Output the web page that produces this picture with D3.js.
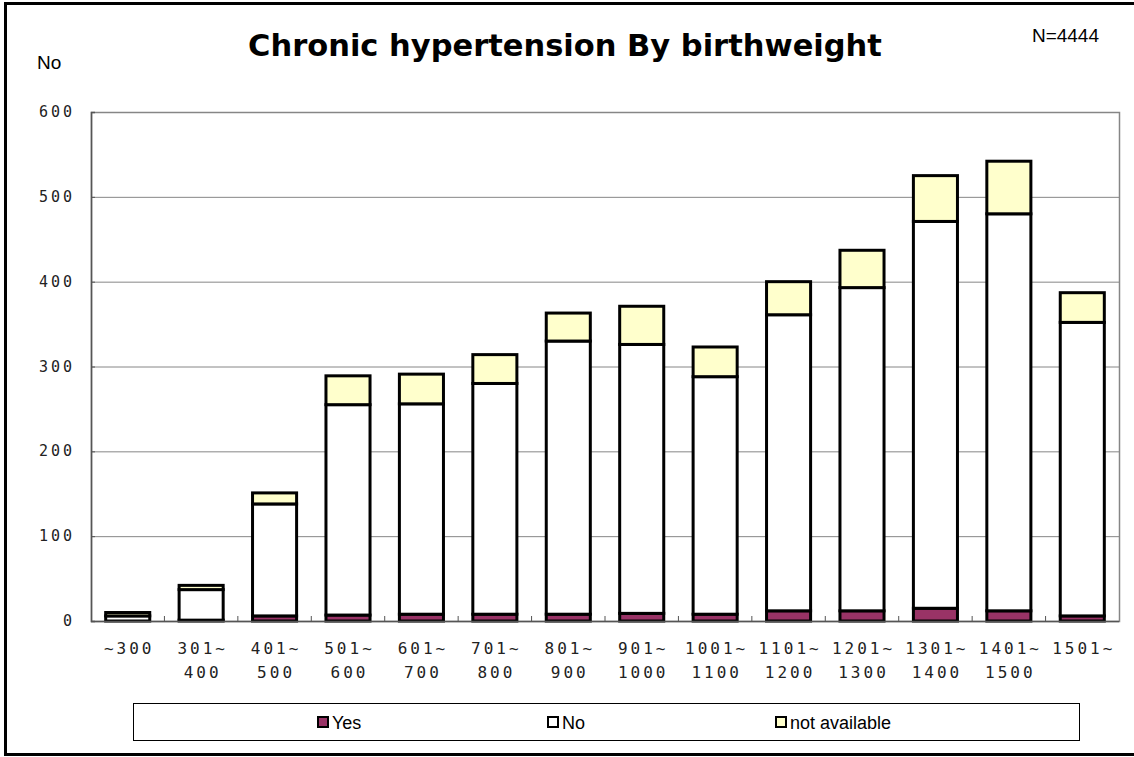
<!DOCTYPE html>
<html>
<head>
<meta charset="utf-8">
<script src="https://cdn.jsdelivr.net/npm/d3@7"></script>
<style>
  body { margin: 0; background: #fff; }
  svg { display: block; }
</style>
</head>
<body>
<div id="graph"></div>
<script>
// dados
const categories = ["~300", "301~400", "401~500", "501~600", "601~700", "701~800", "801~900",
  "901~1000", "1001~1100", "1101~1200", "1201~1300", "1301~1400", "1401~1500", "1501~"];
const labelLines = [["~300"], ["301~", "400"], ["401~", "500"], ["501~", "600"], ["601~", "700"],
  ["701~", "800"], ["801~", "900"], ["901~", "1000"], ["1001~", "1100"], ["1101~", "1200"],
  ["1201~", "1300"], ["1301~", "1400"], ["1401~", "1500"], ["1501~"]];
const yes = [0, 1, 6, 7, 8, 8, 8, 9, 8, 12, 12, 15, 12, 6];
const no = [6, 36, 132, 248, 248, 272, 322, 317, 280, 349, 381, 456, 468, 346];
const notAvailable = [4, 5, 13, 34, 35, 34, 33, 45, 35, 39, 44, 54, 62, 35];
const seriesNames = ["Yes", "No", "not available"];
const seriesColors = ["#993366", "#ffffff", "#ffffcc"];
const yTicks = [0, 100, 200, 300, 400, 500, 600];

const W = 1134, H = 757;
const plot = { left: 91, top: 112, right: 1119, bottom: 621 };

const svg = d3.select("#graph")
  .append("svg")
  .attr("width", W)
  .attr("height", H);

svg.append("rect")
  .attr("width", W).attr("height", H).attr("fill", "#fff");

// moldura externa (lado direito fica fora da imagem)
svg.append("rect")
  .attr("x", 5.5).attr("y", 3.5)
  .attr("width", W + 20).attr("height", 751)
  .attr("fill", "none").attr("stroke", "#000").attr("stroke-width", 3);

const xScale = d3.scaleBand()
  .domain(categories)
  .range([plot.left, plot.right])
  .paddingInner(0.4)
  .paddingOuter(0.2);

const yScale = d3.scaleLinear()
  .domain([0, 600])
  .range([plot.bottom, plot.top]);

// grade
svg.append("g")
  .selectAll("line")
  .data(yTicks.filter(d => d > 0 && d < 600))
  .join("line")
  .attr("x1", plot.left).attr("x2", plot.right)
  .attr("y1", d => yScale(d) + 0.5).attr("y2", d => yScale(d) + 0.5)
  .attr("stroke", "#868686").attr("stroke-width", 1);

svg.append("rect")
  .attr("x", plot.left + 0.5).attr("y", plot.top + 0.5)
  .attr("width", plot.right - plot.left).attr("height", plot.bottom - plot.top)
  .attr("fill", "none").attr("stroke", "#868686").attr("stroke-width", 1.5);

// pilhas
const rows = categories.map((c, i) => ({ cat: c, Yes: yes[i], No: no[i], "not available": notAvailable[i] }));
const stacked = d3.stack().keys(seriesNames)(rows);

svg.append("g")
  .selectAll("g")
  .data(stacked)
  .join("g")
  .attr("fill", (d, i) => seriesColors[i])
  .selectAll("rect")
  .data(d => d)
  .join("rect")
  .attr("x", d => xScale(d.data.cat))
  .attr("y", d => yScale(d[1]))
  .attr("width", xScale.bandwidth())
  .attr("height", d => yScale(d[0]) - yScale(d[1]))
  .attr("stroke", "#000")
  .attr("stroke-width", 3);

// eixos
const yAxis = svg.append("g")
  .attr("transform", `translate(${plot.left},0)`)
  .call(d3.axisRight(yScale).tickValues(yTicks).tickSize(4).tickFormat(""));
yAxis.select(".domain").attr("stroke", "#555").attr("stroke-width", 1.5);
yAxis.selectAll(".tick line").attr("stroke", "#555");

svg.append("g")
  .selectAll("text")
  .data(yTicks)
  .join("text")
  .attr("x", 75)
  .attr("y", d => yScale(d) + 5)
  .attr("text-anchor", "end")
  .attr("font-family", "DejaVu Sans Mono")
  .attr("font-size", "15px")
  .attr("letter-spacing", "3px")
  .attr("fill", "#222")
  .text(d => d);

const step = xScale.step();
svg.append("line")
  .attr("x1", plot.left).attr("x2", plot.right)
  .attr("y1", plot.bottom + 0.5).attr("y2", plot.bottom + 0.5)
  .attr("stroke", "#555").attr("stroke-width", 1.5);
svg.append("g")
  .selectAll("line")
  .data(categories.slice(1))
  .join("line")
  .attr("x1", d => xScale(d) - step * xScale.paddingInner() / 2)
  .attr("x2", d => xScale(d) - step * xScale.paddingInner() / 2)
  .attr("y1", plot.bottom).attr("y2", plot.bottom - 5)
  .attr("stroke", "#555");

const xLab = svg.append("g")
  .selectAll("text")
  .data(categories)
  .join("text")
  .attr("text-anchor", "middle")
  .attr("font-family", "DejaVu Sans Mono")
  .attr("font-size", "16px")
  .attr("letter-spacing", "3px")
  .attr("fill", "#222");
xLab.selectAll("tspan")
  .data((d, i) => labelLines[i].map(t => ({ t, c: d })))
  .join("tspan")
  .attr("x", d => xScale(d.c) + xScale.bandwidth() / 2 + 1.5)
  .attr("y", (d, j) => 654 + j * 24)
  .text(d => d.t);

// titulos
svg.append("text")
  .attr("x", 565).attr("y", 56)
  .attr("text-anchor", "middle")
  .attr("font-family", "DejaVu Sans")
  .attr("font-weight", "bold")
  .attr("font-size", "30.5px")
  .text("Chronic hypertension By birthweight");

svg.append("text")
  .attr("x", 37).attr("y", 69)
  .attr("font-family", "Liberation Sans")
  .attr("font-size", "19px")
  .text("No");

svg.append("text")
  .attr("x", 1099).attr("y", 42)
  .attr("text-anchor", "end")
  .attr("font-family", "Liberation Sans")
  .attr("font-size", "19px")
  .text("N=4444");

// legenda
svg.append("rect")
  .attr("x", 133.5).attr("y", 703.5)
  .attr("width", 946).attr("height", 37)
  .attr("fill", "#fff").attr("stroke", "#000").attr("stroke-width", 1);

const legendX = [318, 548, 776];
const leg = svg.append("g")
  .selectAll("g")
  .data(seriesNames)
  .join("g")
  .attr("transform", (d, i) => `translate(${legendX[i]},717)`);
leg.append("rect")
  .attr("width", 10).attr("height", 10)
  .attr("fill", (d, i) => seriesColors[i])
  .attr("stroke", "#000").attr("stroke-width", 2);
leg.append("text")
  .attr("x", 14).attr("y", 12)
  .attr("font-family", "Liberation Sans")
  .attr("font-size", "18px")
  .text(d => d);
</script>
</body>
</html>
